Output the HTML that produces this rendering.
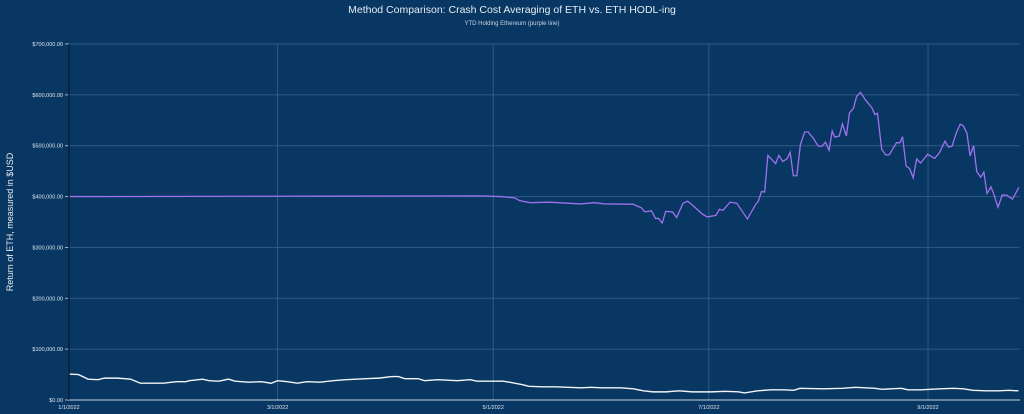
<!DOCTYPE html>
<html><head><meta charset="utf-8"><style>
html,body{margin:0;padding:0;background:#083763;}
svg{display:block;font-family:"Liberation Sans",sans-serif;}
</style></head><body>
<svg id="chart" width="1024" height="414" viewBox="0 0 1024 414">
<rect width="1024" height="414" fill="#083763"/>
<text x="512" y="13" text-anchor="middle" font-size="10.5" fill="#e6ecf3">Method Comparison: Crash Cost Averaging of ETH vs. ETH HODL-ing</text>
<text x="512" y="25" text-anchor="middle" font-size="6" fill="#c8d3e0">YTD Holding Ethereum (purple line)</text>
<text transform="translate(13,222) rotate(-90)" text-anchor="middle" font-size="9" fill="#e6ecf3">Return of ETH, measured in $USD</text>
<g id="grid"></g><g id="series"></g><g id="axes"></g>
</svg>
<script>
const yTicks=[0,100000,200000,300000,400000,500000,600000,700000];
const xTickDays=[0,59,120,181,243];
const xTickLabels=["1/1/2022","3/1/2022","5/1/2022","7/1/2022","9/1/2022"];
const hodlDays=[0,116.3,122.1,126.1,127.5,130.5,135.9,144.7,148.7,151.6,159.5,161.9,162.9,164.8,165.9,166.8,167.8,168.8,170.7,171.9,173.7,175.0,176.4,179.1,180.5,183.0,184.0,185.0,187.0,188.9,191.9,194.3,195.0,195.9,196.8,197.7,199.9,200.8,201.9,203.1,204.0,204.9,205.9,206.9,208.1,209.1,210.5,212.0,213.0,214.0,215.0,215.9,216.6,217.9,218.8,219.9,220.8,221.9,222.8,223.9,225.3,227.1,228.0,228.7,229.9,231.0,232.0,234.1,235.1,235.8,236.8,237.8,238.8,239.8,240.9,242.9,244.9,246.3,247.8,248.8,249.8,251.0,252.1,252.9,254.0,254.9,255.9,256.8,257.9,258.8,259.7,260.8,261.7,262.8,264.0,265.2,266.9,268.7];
const hodlValuesK=[400,401.3,400,397.4,392,388,389,385.5,388,385.5,385,378,370,372,357,357,348,371,370,359,387,391,383,366,360,363,375,373,389,387,356,385,391,410,409,481,465,481,469,474,487,441,441,502,527,527,515,499,499,507,491,529,517,519,543,519,565,573,597,605,590,575,561,564,493,482,482,506,506,518,460,455,437,474,466,483,475,487,509,497,499,525,542,540,525,480,500,449,438,448,406,419,403,379,403,403,395,418];
const ccaDays=[0,2.7,5.4,8.2,10,13.7,17.4,20.2,23,26.7,30.4,33.1,34,37.8,39.6,42.4,45.1,47,50.7,54.4,57.2,59,61.8,64.6,67.3,71,74.7,78.4,83.9,87.6,91.3,93.2,95,98.7,100.6,104.3,109.8,113.5,115.4,119.1,122.8,124.6,128.3,130.1,133.8,137.5,141.2,144.9,147.7,150.5,156,159.7,162.5,165.2,168.9,172.6,176.3,181.8,185.6,189.3,191.1,194.8,198.5,202.2,205,206.8,213.3,218.8,222.5,228,229.9,235.4,237.3,241,246.5,250.2,253,255.7,259.4,263.1,265.9,268.6];
const ccaValuesK=[51,50,41,40,43,43,41,33,33,33,36,36,38,41,38,37,41,37,35,36,33,38,36,33,36,35,38,40,42,43,46,46,42,42,38,40,38,40,37,37,37,35,30,27,26,26,25,24,25,24,24,22,18,16,16,18,16,16,17,16,14,18,20,20,19,23,22,23,25,23,21,23,20,20,22,23,22,19,18,18,19,18];
const NS="http://www.w3.org/2000/svg";
const X0=69,X1=1020,Y0=400,Y1=44;
const xs=d=>X0+d*3.535;
const ys=v=>Y0-(v/700000)*(Y0-Y1);
function mk(tag,attrs,parent){const e=document.createElementNS(NS,tag);for(const k in attrs)e.setAttribute(k,attrs[k]);parent.appendChild(e);return e;}
const grid=document.getElementById('grid'),axes=document.getElementById('axes'),series=document.getElementById('series');
yTicks.forEach((v,i)=>{
  const y=ys(v);
  if(v>0){const l=mk('line',{x1:X0,x2:X1,y1:y,y2:y,stroke:'#2f5a84','stroke-width':1},grid);
  
  }
  const tk=mk('line',{x1:X0-4,x2:X0,y1:y,y2:y,stroke:'#9fb3c8','stroke-width':1},axes);
  
  
  const t=mk('text',{x:X0-6,y:y+2,'text-anchor':'end','font-size':5.5,fill:'#dfe6ee'},axes);
  t.textContent='$'+v.toLocaleString('en-US')+'.00';
  
  
});
xTickDays.forEach((d,i)=>{
  const x=xs(d);
  if(d>0){const l=mk('line',{x1:x,x2:x,y1:Y1,y2:Y0,stroke:'#2f5a84','stroke-width':1},grid);
  
  }
  const t=mk('text',{x:x,y:409,'text-anchor':'middle','font-size':5.5,fill:'#dfe6ee'},axes);
  t.textContent=xTickLabels[i];
  
  
});
const ya=mk('line',{x1:X0,x2:X0,y1:Y1,y2:Y0,stroke:'#0d1e33','stroke-width':1.5},axes);


const xa=mk('line',{x1:X0,x2:X1,y1:Y0,y2:Y0,stroke:'#c9d4e0','stroke-width':1},axes);


const hp=mk('polyline',{points:hodlDays.map((d,i)=>xs(d)+','+ys(hodlValuesK[i]*1000)).join(' '),fill:'none',stroke:'#a070f0','stroke-width':1.3},series);


const cp=mk('polyline',{points:ccaDays.map((d,i)=>xs(d)+','+ys(ccaValuesK[i]*1000)).join(' '),fill:'none',stroke:'#f2f4f7','stroke-width':1.4},series);


</script>
</body></html>
